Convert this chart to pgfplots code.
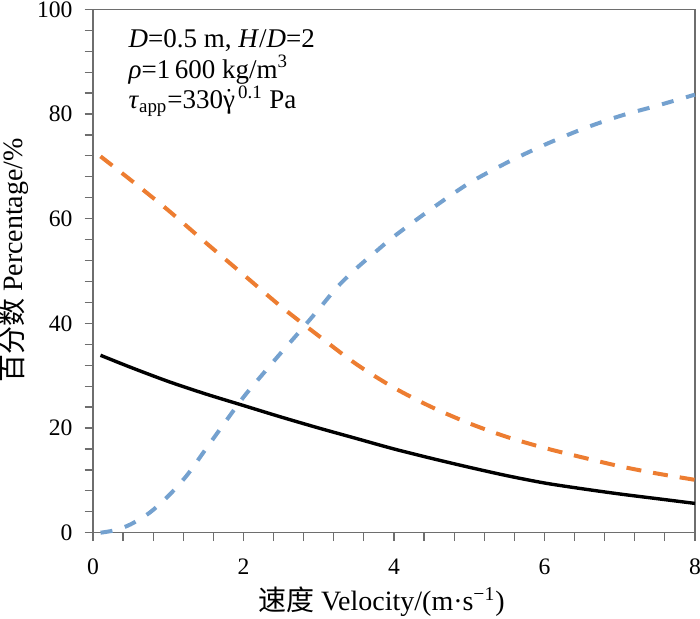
\documentclass[border=0pt]{standalone}
\usepackage{pgfplots}
\pgfplotsset{compat=1.18}
\usepackage{fontspec}
\setmainfont{Liberation Serif}
\newfontfamily\cjk{Noto Sans CJK SC}
\definecolor{myorange}{RGB}{237,125,49}
\definecolor{myblue}{RGB}{116,161,207}
\definecolor{axgray}{RGB}{110,110,110}
\begin{document}
\begin{tikzpicture}
\begin{axis}[
  scale only axis, width=301pt, height=261.7pt,
  at={(0,0)}, anchor=south west,
  xmin=0, xmax=8, ymin=0, ymax=100,
  xtick={0,2,...,8}, ytick={0,20,...,100},
  minor x tick num=4, minor y tick num=4,
  tick align=outside, tick pos=left,
  major tick length=4.2pt, minor tick length=4.2pt,
  axis line style={axgray, line width=0.6pt},
  every tick/.style={axgray, line width=0.6pt},
  /pgf/number format/assume math mode=true,
  ticklabel style={font=\fontsize{11.8}{13}\selectfont},
  xticklabel style={yshift=-5.5pt},
  yticklabel style={xshift=-2.5pt},
  label style={font=\fontsize{14}{15}\selectfont},
  xlabel={{\cjk 速度} Velocity/(m·s\textsuperscript{−1})},
  ylabel={{\cjk 百分数} Percentage/\%},
  xlabel style={at={(axis description cs:0.479,-0.1324)}, anchor=center},
  ylabel style={at={(axis description cs:-0.1312,0.52)}, anchor=center},
  clip=false,
]
\addplot[black, line width=1.7pt, smooth] coordinates {
(0.1,33.9) (0.5,31.6) (1.0,28.9) (1.5,26.5) (2.0,24.3) (2.5,22.1) (3.0,20.0) (3.5,18.0) (4.0,16.0) (4.5,14.2) (5.0,12.5) (5.5,10.9) (6.0,9.5) (6.5,8.4) (7.0,7.4) (7.5,6.5) (8.0,5.6)};
\addplot[myorange, line width=2pt, smooth, dash pattern=on 7.5pt off 6pt] coordinates {
(0.1,71.9) (0.5,67.4) (1.0,61.6) (1.5,55.4) (2.0,49.3) (2.5,43.2) (3.0,37.6) (3.5,32.2) (4.0,27.7) (4.5,24.0) (5.0,20.9) (5.5,18.3) (6.0,16.2) (6.5,14.4) (7.0,12.7) (7.5,11.3) (8.0,10.1)};
\addplot[myblue, line width=2pt, smooth, dash pattern=on 6pt off 6.5pt] coordinates {
(0.1,0.0) (0.3,0.5) (0.5,1.6) (0.75,3.8) (1.0,7.0) (1.25,11.0) (1.5,16.0) (1.75,21.0) (2.0,25.9) (2.25,30.2) (2.5,34.4) (2.75,38.5) (3.0,42.7) (3.25,47.0) (3.5,50.5) (3.75,53.6) (4.0,56.6) (4.5,61.9) (5.0,66.8) (5.5,70.7) (6.0,74.1) (6.5,77.1) (7.0,79.6) (7.5,81.6) (8.0,83.7)};
\node[anchor=north west, align=left, inner sep=0pt, font=\fontsize{13.5}{15.2}\selectfont] at (rel axis cs:0.0586,0.9614)
{\textit{D}=0.5 m, \textit{H}/\textit{D}=2\\
 \textit{ρ}=1\,600 kg/m\textsuperscript{3}\\
 \textit{τ}\textsubscript{app}=330$\dot{\hbox{γ}}$\hspace{1.5pt}\textsuperscript{0.1} Pa};
\end{axis}
\pgfresetboundingbox
\useasboundingbox (-46.5pt,-42.65pt) rectangle (303.5pt,266.35pt);
\end{tikzpicture}
\end{document}
